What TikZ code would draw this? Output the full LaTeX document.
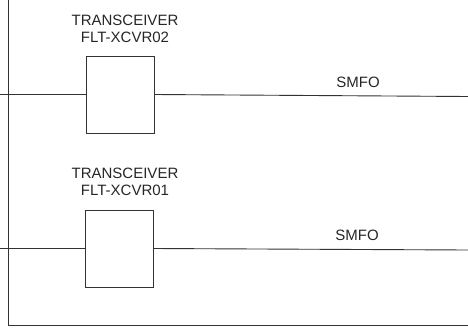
\documentclass[tikz,border=0pt]{standalone}
\usepackage{fontspec}
\setmainfont{Liberation Sans}
\begin{document}
\begin{tikzpicture}[x=1pt,y=-1pt,
  ln/.style={draw=black!80,line width=0.9pt},
  xcvr/.style={draw=black!80,line width=0.9pt,minimum width=68pt,minimum height=77pt,inner sep=0pt},
  lbl/.style={font=\fontsize{15}{17}\selectfont,text=black!85,align=center,inner sep=0pt}]
\useasboundingbox (0,0) rectangle (468,335);
% frame
\coordinate (ftop) at (8,0);
\coordinate (fcorner) at (8,325);
\coordinate (fright) at (468,325);
\draw[ln] (ftop) -- (fcorner) -- (fright);
% upper transceiver
\node[xcvr] (x2) at (120,94.5) {};
\node[lbl] (t2) at (125,28.5) {TRANSCEIVER\\FLT-XCVR02};
\coordinate (l2) at (0,94.5);
\coordinate (r2) at (468,96.5);
\draw[ln] (l2) -- (x2.west);
\draw[ln] (x2.east) -- (r2);
\node[lbl] (s2) at (358,82) {SMFO};
% lower transceiver
\node[xcvr] (x1) at (119,248.5) {};
\node[lbl] (t1) at (125,181.5) {TRANSCEIVER\\FLT-XCVR01};
\coordinate (l1) at (0,248.5);
\coordinate (r1) at (468,250);
\draw[ln] (l1) -- (x1.west);
\draw[ln] (x1.east) -- (r1);
\node[lbl] (s1) at (357,235) {SMFO};
\end{tikzpicture}
\end{document}
